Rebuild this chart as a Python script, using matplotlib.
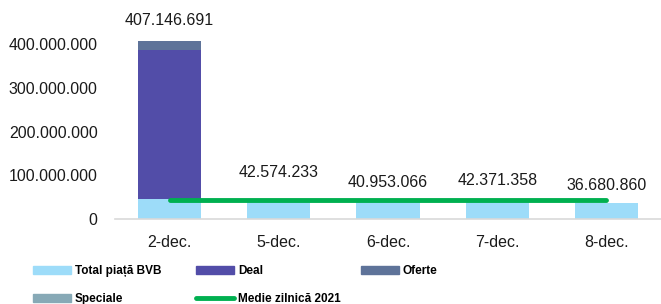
import numpy as np
import matplotlib
matplotlib.use("Agg")
import matplotlib.pyplot as plt
from matplotlib.lines import Line2D
from matplotlib.patches import Patch

plt.rcParams['font.family'] = ['Liberation Sans', 'DejaVu Sans']

# date
zile = ["2-dec.", "5-dec.", "6-dec.", "7-dec.", "8-dec."]
total_bvb = [46000000, 42574233, 40953066, 42371358, 36680860]
deal = [339000000, 0, 0, 0, 0]
oferte = [22146691, 0, 0, 0, 0]
speciale = [0, 0, 0, 0, 0]
etichete = ["407.146.691", "42.574.233", "40.953.066", "42.371.358", "36.680.860"]
medie_2021 = [43400000, 43400000, 43400000, 43400000, 43400000]

c_bvb = "#9DDCF9"
c_deal = "#524DA8"
c_oferte = "#5E7399"
c_spec = "#87A9B6"
c_medie = "#00B050"

fig = plt.figure(figsize=(6.61, 3.04), dpi=100)
ax = fig.add_axes([0.174, 0.2786, 0.826, 0.7214])

x = np.arange(len(zile))
w = 0.58
b1 = np.array(total_bvb)
b2 = b1 + np.array(deal)
b3 = b2 + np.array(oferte)
ax.bar(x, total_bvb, w, color=c_bvb)
ax.bar(x, deal, w, bottom=b1, color=c_deal)
ax.bar(x, oferte, w, bottom=b2, color=c_oferte)
ax.bar(x, speciale, w, bottom=b3, color=c_spec)
ax.plot(x, medie_2021, color=c_medie, lw=3.5, solid_capstyle='round', zorder=3)

# etichete cu totalul
top = b3 + np.array(speciale)
offs = [9, 14.5, 8.5, 9, 7.5]
for i in range(len(zile)):
    ax.annotate(etichete[i], (x[i], top[i]), xytext=(0, offs[i]), textcoords='offset points',
                ha='center', va='bottom', fontsize=11.5, color='#1a1a1a')

ax.set_xlim(-0.5, len(zile) - 0.5)
ax.set_ylim(0, 500000000)
ticks = [0, 100000000, 200000000, 300000000, 400000000]
ax.set_yticks(ticks)
ax.set_yticklabels(["0", "100.000.000", "200.000.000", "300.000.000", "400.000.000"])
ax.set_xticks(x)
ax.set_xticklabels(zile)
ax.tick_params(axis='y', length=0, pad=12.5, labelsize=11.5, labelcolor='#1a1a1a')
ax.tick_params(axis='x', length=0, pad=11, labelsize=11.5, labelcolor='#1a1a1a')
for s in ['top', 'right', 'left']:
    ax.spines[s].set_visible(False)
ax.spines['bottom'].set_color('#d9d9d9')
ax.spines['bottom'].set_linewidth(1.2)

# legenda, cate o coloana
coloane = [
    ([Patch(color=c_bvb), Patch(color=c_spec)], ["Total piață BVB", "Speciale"], 33),
    ([Patch(color=c_deal), Line2D([], [], color=c_medie, lw=3.5, solid_capstyle='round')],
     ["Deal", "Medie zilnică 2021"], 196),
    ([Patch(color=c_oferte)], ["Oferte"], 361),
]
for h, l, px in coloane:
    fig.legend(h, l, loc='upper left', bbox_to_anchor=(px / 661, 0.127),
               frameon=False, prop={'weight': 'bold', 'size': 8.5}, handlelength=3.2,
               handleheight=0.65, handletextpad=0.35, labelspacing=1.35,
               borderaxespad=0, borderpad=0)

fig.savefig("out.png", dpi=100)
